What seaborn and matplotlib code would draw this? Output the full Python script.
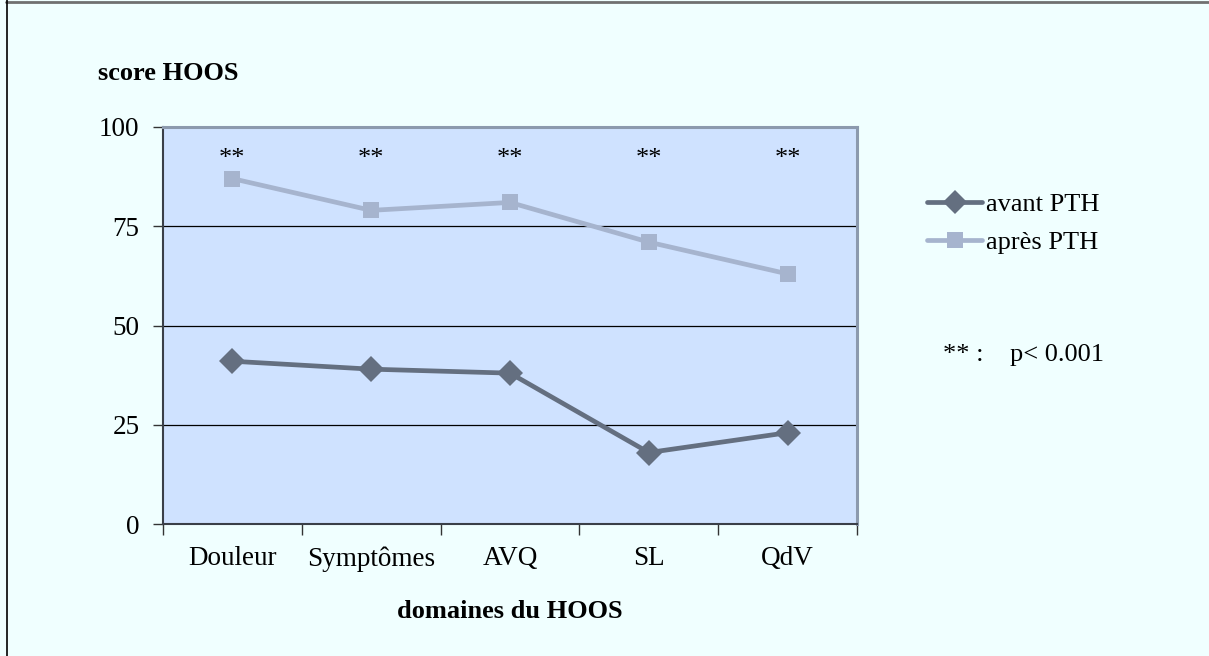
import pandas as pd
import matplotlib.pyplot as plt
import seaborn as sns
from matplotlib.lines import Line2D

# values
domaines = ["Douleur", "Symptômes", "AVQ", "SL", "QdV"]
avant_pth = [41, 39, 38, 18, 23]
apres_pth = [87, 79, 81, 71, 63]
y_ticks = [0, 25, 50, 75, 100]
signif = ["**", "**", "**", "**", "**"]

col_avant = "#646F80"
col_apres = "#A6B4CE"

df = pd.DataFrame({
    "domaine": domaines * 2,
    "score": avant_pth + apres_pth,
    "periode": ["avant PTH"] * len(domaines) + ["après PTH"] * len(domaines),
})

sns.set_style("white", {"xtick.bottom": True, "ytick.left": True})
plt.rcParams["font.family"] = ["Liberation Serif", "DejaVu Serif"]
plt.rcParams["text.color"] = "black"
plt.rcParams["xtick.color"] = "black"
plt.rcParams["ytick.color"] = "black"

fig = plt.figure(figsize=(12.09, 6.56), dpi=100, facecolor="#F0FFFF")
ax = fig.add_axes([163 / 1209, 1 - 524 / 656, 694 / 1209, 397 / 656])
ax.set_facecolor("#CFE2FF")

marker_sizes = {"avant PTH": 13.5, "après PTH": 12}
for periode, marker in [("avant PTH", "D"), ("après PTH", "s")]:
    sub = df[df["periode"] == periode]
    sns.lineplot(data=sub, x="domaine", y="score", marker=marker,
                 color=col_avant if periode == "avant PTH" else col_apres,
                 linewidth=3.4, markersize=marker_sizes[periode],
                 markeredgewidth=0, ax=ax, sort=False)

ax.set_xlim(-0.5, len(domaines) - 0.5)
ax.set_ylim(0, 100)
ax.set_yticks(y_ticks)
ax.set_yticklabels([str(t) for t in y_ticks], fontsize=19.5)
ax.set_xticks(range(len(domaines)))
ax.set_xticklabels(domaines, fontsize=19.5)
ax.set_xticks([i - 0.5 for i in range(len(domaines) + 1)], minor=True)
ax.tick_params(axis="x", which="major", bottom=False, length=0, pad=16)
ax.tick_params(axis="x", which="minor", bottom=True, length=8, width=1,
               color="#333333", direction="out")
ax.tick_params(axis="y", left=True, length=7, width=1, color="#333333",
               direction="out", pad=10)
ax.set_xlabel("")
ax.set_ylabel("")

for y in y_ticks[1:-1]:
    ax.axhline(y, color="black", linewidth=0.9, zorder=1)

for s in ["left", "bottom"]:
    ax.spines[s].set_color("#3A3F48")
    ax.spines[s].set_linewidth(1.5)
for s in ["top", "right"]:
    ax.spines[s].set_color("#8C9AAE")
    ax.spines[s].set_linewidth(2.2)

for i, s in enumerate(signif):
    ax.text(i, 92, s, ha="center", va="center", fontsize=19)

fig.text(98 / 1209, 1 - 73 / 656, "score HOOS", fontsize=19, fontweight="bold",
         ha="left", va="center")
fig.text(510 / 1209, 1 - 612 / 656, "domaines du HOOS", fontsize=19,
         fontweight="bold", ha="center", va="center")

handles = [
    Line2D([], [], color=col_avant, linewidth=3.4, marker="D", markersize=12,
           markeredgewidth=0),
    Line2D([], [], color=col_apres, linewidth=3.4, marker="s", markersize=11,
           markeredgewidth=0),
]
fig.legend(handles, ["avant PTH", "après PTH"], loc="upper left",
           bbox_to_anchor=(927 / 1209, 1 - 193 / 656), frameon=False,
           fontsize=19, handlelength=2.1, handletextpad=0.15, labelspacing=0.55,
           borderpad=0, borderaxespad=0)

fig.text(943 / 1209, 1 - 355 / 656, "** :    p< 0.001", fontsize=19,
         ha="left", va="center")

# outer frame (top and left edges visible)
fig.add_artist(Line2D([6 / 1209, 1], [1 - 1.5 / 656, 1 - 1.5 / 656],
                      transform=fig.transFigure, color="#707070", linewidth=2))
fig.add_artist(Line2D([6.5 / 1209, 6.5 / 1209], [0, 1],
                      transform=fig.transFigure, color="black", linewidth=1.2))

fig.savefig("out.png", dpi=100, facecolor=fig.get_facecolor())
